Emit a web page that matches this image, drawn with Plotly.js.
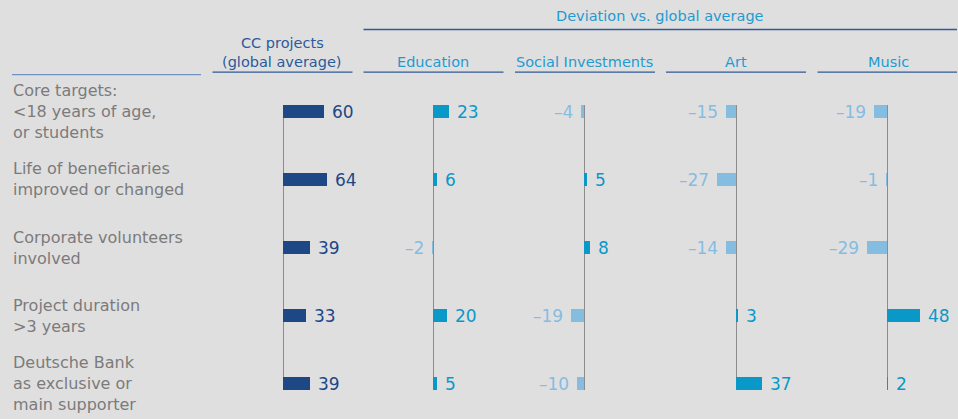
<!DOCTYPE html>
<html>
<head>
<meta charset="utf-8">
<script src="https://cdn.plot.ly/plotly-3.0.1.min.js"></script>
<style>html,body{margin:0;padding:0;background:#e0dfe0;}#chart{width:958px;height:419px;}</style>
</head>
<body>
<div id="chart"></div>
<script>
// ---- data ----
const categories = [
  "Core targets:<br><18 years of age,<br>or students",
  "Life of beneficiaries<br>improved or changed",
  "Corporate volunteers<br>involved",
  "Project duration<br>>3 years",
  "Deutsche Bank<br>as exclusive or<br>main supporter"
];
const panelNames = ["CC projects", "Education", "Social Investments", "Art", "Music"];
const ccProjects = [60, 64, 39, 33, 39];
const education = [23, 6, -2, 20, 5];
const socialInvestments = [-4, 5, 8, -19, -10];
const art = [-15, -27, -14, 3, 37];
const music = [-19, -1, -29, 48, 2];
const groupTitle = "Deviation vs. global average";
const ccTitleLines = ["CC projects", "(global average)"];

// ---- layout helpers ----
const W = 958, H = 419, T = 105, B = 29;
const plotBottom = H - B, plotH = H - T - B;
const fx = X => X / W;
const fy = Y => (plotBottom - Y) / plotH;
const scale = 0.69;            // px per unit
const halfW = 70;              // px half-width of each panel
const zeros = [283, 433.3, 584, 736, 887];
const rng = halfW / scale;

const NAVY = "#1d4785", POS = "#0a98c9", NEG = "#84bde0";
const FONT = "DejaVu Sans";

const series = [ccProjects, education, socialInvestments, art, music];
const idx = categories.map((_, i) => i);

const traces = [];
const annotations = [];
const fmt = v => v < 0 ? "\u2013" + Math.abs(v) : String(v);

series.forEach((vals, p) => {
  const ax = p === 0 ? "x" : "x" + (p + 1);
  const colors = vals.map(v => p === 0 ? NAVY : (v < 0 ? NEG : POS));
  traces.push({
    type: "bar", orientation: "h", x: vals, y: idx,
    xaxis: ax, yaxis: "y", width: 0.186,
    marker: {color: colors, line: {width: 0}},
    hoverinfo: "none", showlegend: false
  });
  vals.forEach((v, i) => {
    annotations.push({
      x: v, y: i, xref: ax, yref: "y",
      text: fmt(v), showarrow: false,
      xanchor: v < 0 ? "right" : "left", yanchor: "middle",
      xshift: v < 0 ? -6 : 6, yshift: -0.5,
      font: {family: FONT, size: 17, color: colors[i]}
    });
  });
});

categories.forEach((c, i) => {
  annotations.push({
    x: fx(11), y: i, xref: "paper", yref: "y", text: c, showarrow: false,
    xanchor: "left", yanchor: "middle", align: "left",
    font: {family: FONT, size: 16, color: "#7b7b7b"}
  });
});

// headers
annotations.push({x: fx(660), y: fy(16), xref: "paper", yref: "paper", text: groupTitle,
  showarrow: false, xanchor: "center", yanchor: "middle",
  font: {family: FONT, size: 14.5, color: "#1e9bd0"}});
annotations.push({x: fx(282), y: fy(43), xref: "paper", yref: "paper", text: ccTitleLines[0],
  showarrow: false, xanchor: "center", yanchor: "middle",
  font: {family: FONT, size: 14.5, color: "#2a5a9b"}});
annotations.push({x: fx(282), y: fy(62.5), xref: "paper", yref: "paper", text: ccTitleLines[1],
  showarrow: false, xanchor: "center", yanchor: "middle",
  font: {family: FONT, size: 14.5, color: "#2a5a9b"}});
const headerCenters = [433.3, 584, 735.5, 888.5];
panelNames.slice(1).forEach((n, k) => {
  annotations.push({x: fx(headerCenters[k]), y: fy(62), xref: "paper", yref: "paper", text: n,
    showarrow: false, xanchor: "center", yanchor: "middle",
    font: {family: FONT, size: 14.5, color: "#1e9bd0"}});
});

// rules
const LINE = "#2e5a96";
const hline = (x0, x1, y, color, w) => ({type: "line", xref: "paper", yref: "paper",
  x0: fx(x0), x1: fx(x1), y0: fy(y), y1: fy(y), line: {color: color, width: w}});
const shapes = [
  hline(12, 201, 74.7, "#7292c0", 1.3),
  hline(212.5, 352.5, 72.2, LINE, 1.3),
  hline(363.5, 503.5, 72.2, LINE, 1.3),
  hline(515, 655, 72.2, LINE, 1.3),
  hline(666, 806, 72.2, LINE, 1.3),
  hline(817.5, 957, 72.2, LINE, 1.3),
  hline(363.5, 957, 29.5, LINE, 1.3)
];

const layout = {
  width: W, height: H,
  margin: {l: 0, r: 0, t: T, b: B, pad: 0},
  paper_bgcolor: "#e0dfe0", plot_bgcolor: "rgba(0,0,0,0)",
  showlegend: false, bargap: 0,
  yaxis: {range: [4.093, -0.093], showticklabels: false, showgrid: false,
    zeroline: false, showline: false, ticks: "", fixedrange: true},
  annotations: annotations, shapes: shapes
};
zeros.forEach((z, p) => {
  const key = p === 0 ? "xaxis" : "xaxis" + (p + 1);
  layout[key] = {
    domain: [fx(z - halfW), fx(z + halfW)],
    range: [-rng, rng], anchor: "y",
    showticklabels: false, showgrid: false, ticks: "", showline: false,
    zeroline: true, zerolinecolor: "#8c8c8c", zerolinewidth: 1, fixedrange: true
  };
});

Plotly.newPlot("chart", traces, layout, {staticPlot: true, displayModeBar: false});
</script>
</body>
</html>
